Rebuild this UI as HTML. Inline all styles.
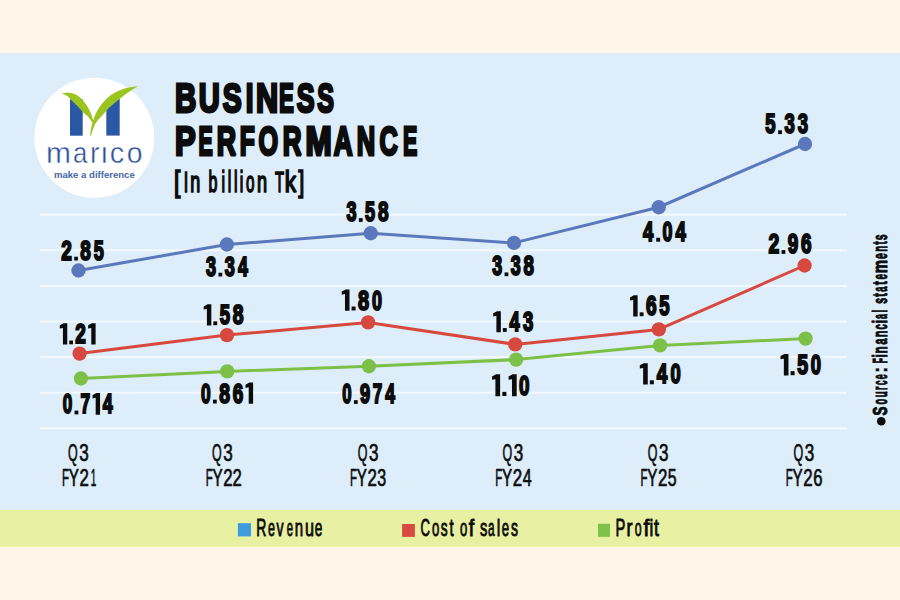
<!DOCTYPE html>
<html><head><meta charset="utf-8"><style>
html,body{margin:0;padding:0;width:900px;height:600px;overflow:hidden;background:#FEF4E7;}
svg{display:block;}
</style></head><body>
<svg width="900" height="600" viewBox="0 0 900 600">
<rect x="0" y="0" width="900" height="600" fill="#FEF4E7"/>
<rect x="0" y="53" width="900" height="457" fill="#DDEEFA"/>
<rect x="0" y="510" width="900" height="37" fill="#E8F0A3"/>
<rect x="40.0" y="213.70" width="807.0" height="2.00" fill="#F3F9FE"/><rect x="40.0" y="249.30" width="807.0" height="2.00" fill="#F3F9FE"/><rect x="40.0" y="284.90" width="807.0" height="2.00" fill="#F3F9FE"/><rect x="40.0" y="320.50" width="807.0" height="2.00" fill="#F3F9FE"/><rect x="40.0" y="356.10" width="807.0" height="2.00" fill="#F3F9FE"/><rect x="40.0" y="391.70" width="807.0" height="2.00" fill="#F3F9FE"/><rect x="40.0" y="427.30" width="807.0" height="2.00" fill="#F3F9FE"/>
<circle cx="94.3" cy="137.75" r="60" fill="#FFFFFF"/>
<rect x="70" y="99.3" width="12.7" height="36.4" fill="#2B58A5"/>
<rect x="106.3" y="98.9" width="13.4" height="36.7" fill="#2B58A5"/>
<path d="M61.70,93.20 C62.95,93.12 66.70,92.40 69.20,92.70 C71.70,93.00 74.37,93.67 76.70,95.00 C79.03,96.33 81.33,98.67 83.20,100.70 C85.07,102.73 86.58,105.03 87.90,107.20 C89.22,109.37 90.25,111.52 91.10,113.70 C91.95,115.88 92.63,118.83 93.00,120.30 C93.37,121.77 93.25,122.13 93.30,122.50 L92.30,122.50 C91.57,121.50 89.50,118.27 87.90,116.50 C86.30,114.73 84.42,113.60 82.70,111.90 C80.98,110.20 79.38,108.17 77.60,106.30 C75.82,104.43 73.72,102.42 72.00,100.70 C70.28,98.98 69.02,97.25 67.30,96.00 C65.58,94.75 62.63,93.67 61.70,93.20 Z" fill="#9CC41F"/>
<path d="M137.80,86.20 C136.10,86.45 130.92,86.88 127.60,87.70 C124.28,88.52 120.97,89.65 117.90,91.10 C114.83,92.55 111.78,94.38 109.20,96.40 C106.62,98.42 104.42,100.77 102.40,103.20 C100.38,105.63 98.55,108.42 97.10,111.00 C95.65,113.58 94.67,115.97 93.70,118.70 C92.73,121.43 91.93,124.58 91.30,127.40 C90.67,130.22 90.13,134.23 89.90,135.60 L90.90,135.60 C91.37,134.23 92.58,129.90 93.70,127.40 C94.82,124.90 95.82,123.02 97.60,120.60 C99.38,118.18 101.98,115.48 104.40,112.90 C106.82,110.32 109.37,107.60 112.10,105.10 C114.83,102.60 117.90,100.15 120.80,97.90 C123.70,95.65 126.67,93.55 129.50,91.60 C132.33,89.65 136.42,87.10 137.80,86.20 Z" fill="#9CC41F"/>
<path d="M78.50 270.50 L226.90 244.50 L370.75 233.25 L514.00 242.90 L658.75 207.25 L805.00 144.00" fill="none" stroke="#5B78BD" stroke-width="3.00" stroke-linejoin="round"/>
<path d="M79.60 353.60 L227.00 335.10 L368.10 322.40 L515.20 344.40 L658.80 329.40 L804.60 265.50" fill="none" stroke="#D7483E" stroke-width="3.00" stroke-linejoin="round"/>
<path d="M80.90 378.50 L227.25 371.40 L368.90 366.25 L516.10 359.60 L660.10 345.40 L805.60 338.60" fill="none" stroke="#7CC047" stroke-width="3.00" stroke-linejoin="round"/>
<circle cx="78.50" cy="270.50" r="7.15" fill="#5B78BD"/>
<circle cx="226.90" cy="244.50" r="7.15" fill="#5B78BD"/>
<circle cx="370.75" cy="233.25" r="7.15" fill="#5B78BD"/>
<circle cx="514.00" cy="242.90" r="7.15" fill="#5B78BD"/>
<circle cx="658.75" cy="207.25" r="7.15" fill="#5B78BD"/>
<circle cx="805.00" cy="144.00" r="7.15" fill="#5B78BD"/>
<circle cx="79.60" cy="353.60" r="7.15" fill="#D7483E"/>
<circle cx="227.00" cy="335.10" r="7.15" fill="#D7483E"/>
<circle cx="368.10" cy="322.40" r="7.15" fill="#D7483E"/>
<circle cx="515.20" cy="344.40" r="7.15" fill="#D7483E"/>
<circle cx="658.80" cy="329.40" r="7.15" fill="#D7483E"/>
<circle cx="804.60" cy="265.50" r="7.15" fill="#D7483E"/>
<circle cx="80.90" cy="378.50" r="7.15" fill="#7CC047"/>
<circle cx="227.25" cy="371.40" r="7.15" fill="#7CC047"/>
<circle cx="368.90" cy="366.25" r="7.15" fill="#7CC047"/>
<circle cx="516.10" cy="359.60" r="7.15" fill="#7CC047"/>
<circle cx="660.10" cy="345.40" r="7.15" fill="#7CC047"/>
<circle cx="805.60" cy="338.60" r="7.15" fill="#7CC047"/>
<rect x="237.90" y="523.20" width="13.10" height="13.20" fill="#3F9BDB"/><rect x="402.10" y="524.00" width="12.80" height="12.90" fill="#D94A3F"/><rect x="598.00" y="523.80" width="12.00" height="13.00" fill="#7DC24A"/>
<text x="54.00" y="177.60" font-family="&quot;Liberation Sans&quot;, sans-serif" font-weight="bold" font-size="8.57" textLength="80.73" lengthAdjust="spacingAndGlyphs" fill="#4767A6">make a difference</text>
<text x="68.06" y="460.55" font-family="&quot;Liberation Sans&quot;, sans-serif" font-weight="normal" font-size="23.55" textLength="9.69" lengthAdjust="spacingAndGlyphs" fill="#0c0c0c" stroke="#0c0c0c" stroke-width="0.70" stroke-linejoin="round" stroke-miterlimit="2">Q</text>
<text x="79.30" y="460.55" font-family="&quot;Liberation Sans&quot;, sans-serif" font-weight="normal" font-size="23.55" textLength="9.50" lengthAdjust="spacingAndGlyphs" fill="#0c0c0c" stroke="#0c0c0c" stroke-width="0.70" stroke-linejoin="round" stroke-miterlimit="2">3</text>
<text x="61.91" y="486.25" font-family="&quot;Liberation Sans&quot;, sans-serif" font-weight="normal" font-size="23.11" textLength="7.00" lengthAdjust="spacingAndGlyphs" fill="#0c0c0c" stroke="#0c0c0c" stroke-width="0.70" stroke-linejoin="round" stroke-miterlimit="2">F</text>
<text x="68.81" y="486.25" font-family="&quot;Liberation Sans&quot;, sans-serif" font-weight="normal" font-size="23.11" textLength="10.17" lengthAdjust="spacingAndGlyphs" fill="#0c0c0c" stroke="#0c0c0c" stroke-width="0.70" stroke-linejoin="round" stroke-miterlimit="2">Y</text>
<text x="79.50" y="486.25" font-family="&quot;Liberation Sans&quot;, sans-serif" font-weight="normal" font-size="23.11" textLength="9.40" lengthAdjust="spacingAndGlyphs" fill="#0c0c0c" stroke="#0c0c0c" stroke-width="0.70" stroke-linejoin="round" stroke-miterlimit="2">2</text>
<text x="90.84" y="486.25" font-family="&quot;Liberation Sans&quot;, sans-serif" font-weight="normal" font-size="23.11" textLength="5.55" lengthAdjust="spacingAndGlyphs" fill="#0c0c0c" stroke="#0c0c0c" stroke-width="0.70" stroke-linejoin="round" stroke-miterlimit="2">1</text>
<text x="211.96" y="460.55" font-family="&quot;Liberation Sans&quot;, sans-serif" font-weight="normal" font-size="23.55" textLength="9.69" lengthAdjust="spacingAndGlyphs" fill="#0c0c0c" stroke="#0c0c0c" stroke-width="0.70" stroke-linejoin="round" stroke-miterlimit="2">Q</text>
<text x="223.20" y="460.55" font-family="&quot;Liberation Sans&quot;, sans-serif" font-weight="normal" font-size="23.55" textLength="9.50" lengthAdjust="spacingAndGlyphs" fill="#0c0c0c" stroke="#0c0c0c" stroke-width="0.70" stroke-linejoin="round" stroke-miterlimit="2">3</text>
<text x="205.71" y="486.25" font-family="&quot;Liberation Sans&quot;, sans-serif" font-weight="normal" font-size="23.11" textLength="7.00" lengthAdjust="spacingAndGlyphs" fill="#0c0c0c" stroke="#0c0c0c" stroke-width="0.70" stroke-linejoin="round" stroke-miterlimit="2">F</text>
<text x="212.61" y="486.25" font-family="&quot;Liberation Sans&quot;, sans-serif" font-weight="normal" font-size="23.11" textLength="10.17" lengthAdjust="spacingAndGlyphs" fill="#0c0c0c" stroke="#0c0c0c" stroke-width="0.70" stroke-linejoin="round" stroke-miterlimit="2">Y</text>
<text x="223.30" y="486.25" font-family="&quot;Liberation Sans&quot;, sans-serif" font-weight="normal" font-size="23.11" textLength="9.40" lengthAdjust="spacingAndGlyphs" fill="#0c0c0c" stroke="#0c0c0c" stroke-width="0.70" stroke-linejoin="round" stroke-miterlimit="2">2</text>
<text x="232.51" y="486.25" font-family="&quot;Liberation Sans&quot;, sans-serif" font-weight="normal" font-size="23.11" textLength="9.28" lengthAdjust="spacingAndGlyphs" fill="#0c0c0c" stroke="#0c0c0c" stroke-width="0.70" stroke-linejoin="round" stroke-miterlimit="2">2</text>
<text x="357.76" y="460.55" font-family="&quot;Liberation Sans&quot;, sans-serif" font-weight="normal" font-size="23.55" textLength="9.69" lengthAdjust="spacingAndGlyphs" fill="#0c0c0c" stroke="#0c0c0c" stroke-width="0.70" stroke-linejoin="round" stroke-miterlimit="2">Q</text>
<text x="369.00" y="460.55" font-family="&quot;Liberation Sans&quot;, sans-serif" font-weight="normal" font-size="23.55" textLength="9.50" lengthAdjust="spacingAndGlyphs" fill="#0c0c0c" stroke="#0c0c0c" stroke-width="0.70" stroke-linejoin="round" stroke-miterlimit="2">3</text>
<text x="349.91" y="486.25" font-family="&quot;Liberation Sans&quot;, sans-serif" font-weight="normal" font-size="23.11" textLength="7.00" lengthAdjust="spacingAndGlyphs" fill="#0c0c0c" stroke="#0c0c0c" stroke-width="0.70" stroke-linejoin="round" stroke-miterlimit="2">F</text>
<text x="356.81" y="486.25" font-family="&quot;Liberation Sans&quot;, sans-serif" font-weight="normal" font-size="23.11" textLength="10.17" lengthAdjust="spacingAndGlyphs" fill="#0c0c0c" stroke="#0c0c0c" stroke-width="0.70" stroke-linejoin="round" stroke-miterlimit="2">Y</text>
<text x="367.50" y="486.25" font-family="&quot;Liberation Sans&quot;, sans-serif" font-weight="normal" font-size="23.11" textLength="9.40" lengthAdjust="spacingAndGlyphs" fill="#0c0c0c" stroke="#0c0c0c" stroke-width="0.70" stroke-linejoin="round" stroke-miterlimit="2">2</text>
<text x="377.14" y="486.25" font-family="&quot;Liberation Sans&quot;, sans-serif" font-weight="normal" font-size="23.11" textLength="8.91" lengthAdjust="spacingAndGlyphs" fill="#0c0c0c" stroke="#0c0c0c" stroke-width="0.70" stroke-linejoin="round" stroke-miterlimit="2">3</text>
<text x="502.56" y="460.55" font-family="&quot;Liberation Sans&quot;, sans-serif" font-weight="normal" font-size="23.55" textLength="9.69" lengthAdjust="spacingAndGlyphs" fill="#0c0c0c" stroke="#0c0c0c" stroke-width="0.70" stroke-linejoin="round" stroke-miterlimit="2">Q</text>
<text x="513.80" y="460.55" font-family="&quot;Liberation Sans&quot;, sans-serif" font-weight="normal" font-size="23.55" textLength="9.50" lengthAdjust="spacingAndGlyphs" fill="#0c0c0c" stroke="#0c0c0c" stroke-width="0.70" stroke-linejoin="round" stroke-miterlimit="2">3</text>
<text x="495.16" y="486.25" font-family="&quot;Liberation Sans&quot;, sans-serif" font-weight="normal" font-size="23.11" textLength="7.00" lengthAdjust="spacingAndGlyphs" fill="#0c0c0c" stroke="#0c0c0c" stroke-width="0.70" stroke-linejoin="round" stroke-miterlimit="2">F</text>
<text x="502.06" y="486.25" font-family="&quot;Liberation Sans&quot;, sans-serif" font-weight="normal" font-size="23.11" textLength="10.17" lengthAdjust="spacingAndGlyphs" fill="#0c0c0c" stroke="#0c0c0c" stroke-width="0.70" stroke-linejoin="round" stroke-miterlimit="2">Y</text>
<text x="512.75" y="486.25" font-family="&quot;Liberation Sans&quot;, sans-serif" font-weight="normal" font-size="23.11" textLength="9.40" lengthAdjust="spacingAndGlyphs" fill="#0c0c0c" stroke="#0c0c0c" stroke-width="0.70" stroke-linejoin="round" stroke-miterlimit="2">2</text>
<text x="522.78" y="486.25" font-family="&quot;Liberation Sans&quot;, sans-serif" font-weight="normal" font-size="23.11" textLength="8.94" lengthAdjust="spacingAndGlyphs" fill="#0c0c0c" stroke="#0c0c0c" stroke-width="0.70" stroke-linejoin="round" stroke-miterlimit="2">4</text>
<text x="647.76" y="460.55" font-family="&quot;Liberation Sans&quot;, sans-serif" font-weight="normal" font-size="23.55" textLength="9.69" lengthAdjust="spacingAndGlyphs" fill="#0c0c0c" stroke="#0c0c0c" stroke-width="0.70" stroke-linejoin="round" stroke-miterlimit="2">Q</text>
<text x="659.00" y="460.55" font-family="&quot;Liberation Sans&quot;, sans-serif" font-weight="normal" font-size="23.55" textLength="9.50" lengthAdjust="spacingAndGlyphs" fill="#0c0c0c" stroke="#0c0c0c" stroke-width="0.70" stroke-linejoin="round" stroke-miterlimit="2">3</text>
<text x="640.41" y="486.25" font-family="&quot;Liberation Sans&quot;, sans-serif" font-weight="normal" font-size="23.11" textLength="7.00" lengthAdjust="spacingAndGlyphs" fill="#0c0c0c" stroke="#0c0c0c" stroke-width="0.70" stroke-linejoin="round" stroke-miterlimit="2">F</text>
<text x="647.31" y="486.25" font-family="&quot;Liberation Sans&quot;, sans-serif" font-weight="normal" font-size="23.11" textLength="10.17" lengthAdjust="spacingAndGlyphs" fill="#0c0c0c" stroke="#0c0c0c" stroke-width="0.70" stroke-linejoin="round" stroke-miterlimit="2">Y</text>
<text x="658.00" y="486.25" font-family="&quot;Liberation Sans&quot;, sans-serif" font-weight="normal" font-size="23.11" textLength="9.40" lengthAdjust="spacingAndGlyphs" fill="#0c0c0c" stroke="#0c0c0c" stroke-width="0.70" stroke-linejoin="round" stroke-miterlimit="2">2</text>
<text x="667.82" y="486.25" font-family="&quot;Liberation Sans&quot;, sans-serif" font-weight="normal" font-size="23.11" textLength="8.80" lengthAdjust="spacingAndGlyphs" fill="#0c0c0c" stroke="#0c0c0c" stroke-width="0.70" stroke-linejoin="round" stroke-miterlimit="2">5</text>
<text x="793.56" y="460.55" font-family="&quot;Liberation Sans&quot;, sans-serif" font-weight="normal" font-size="23.55" textLength="9.69" lengthAdjust="spacingAndGlyphs" fill="#0c0c0c" stroke="#0c0c0c" stroke-width="0.70" stroke-linejoin="round" stroke-miterlimit="2">Q</text>
<text x="804.80" y="460.55" font-family="&quot;Liberation Sans&quot;, sans-serif" font-weight="normal" font-size="23.55" textLength="9.50" lengthAdjust="spacingAndGlyphs" fill="#0c0c0c" stroke="#0c0c0c" stroke-width="0.70" stroke-linejoin="round" stroke-miterlimit="2">3</text>
<text x="785.71" y="486.25" font-family="&quot;Liberation Sans&quot;, sans-serif" font-weight="normal" font-size="23.11" textLength="7.00" lengthAdjust="spacingAndGlyphs" fill="#0c0c0c" stroke="#0c0c0c" stroke-width="0.70" stroke-linejoin="round" stroke-miterlimit="2">F</text>
<text x="792.61" y="486.25" font-family="&quot;Liberation Sans&quot;, sans-serif" font-weight="normal" font-size="23.11" textLength="10.17" lengthAdjust="spacingAndGlyphs" fill="#0c0c0c" stroke="#0c0c0c" stroke-width="0.70" stroke-linejoin="round" stroke-miterlimit="2">Y</text>
<text x="803.30" y="486.25" font-family="&quot;Liberation Sans&quot;, sans-serif" font-weight="normal" font-size="23.11" textLength="9.40" lengthAdjust="spacingAndGlyphs" fill="#0c0c0c" stroke="#0c0c0c" stroke-width="0.70" stroke-linejoin="round" stroke-miterlimit="2">2</text>
<text x="813.30" y="486.25" font-family="&quot;Liberation Sans&quot;, sans-serif" font-weight="normal" font-size="23.11" textLength="9.28" lengthAdjust="spacingAndGlyphs" fill="#0c0c0c" stroke="#0c0c0c" stroke-width="0.70" stroke-linejoin="round" stroke-miterlimit="2">6</text>
<text x="46.11" y="162.50" font-family="&quot;Liberation Sans&quot;, sans-serif" font-weight="normal" font-size="28.77" textLength="24.97" lengthAdjust="spacingAndGlyphs" fill="#2F4F9C" stroke="#FFFFFF" stroke-width="0.40" stroke-linejoin="round" stroke-miterlimit="2">m</text>
<text x="73.01" y="162.50" font-family="&quot;Liberation Sans&quot;, sans-serif" font-weight="normal" font-size="28.77" textLength="14.29" lengthAdjust="spacingAndGlyphs" fill="#2F4F9C" stroke="#FFFFFF" stroke-width="0.40" stroke-linejoin="round" stroke-miterlimit="2">a</text>
<text x="90.11" y="162.50" font-family="&quot;Liberation Sans&quot;, sans-serif" font-weight="normal" font-size="28.77" textLength="9.46" lengthAdjust="spacingAndGlyphs" fill="#2F4F9C" stroke="#FFFFFF" stroke-width="0.40" stroke-linejoin="round" stroke-miterlimit="2">r</text>
<text x="100.30" y="162.50" font-family="&quot;Liberation Sans&quot;, sans-serif" font-weight="normal" font-size="28.77" textLength="8.22" lengthAdjust="spacingAndGlyphs" fill="#2F4F9C" stroke="#FFFFFF" stroke-width="0.40" stroke-linejoin="round" stroke-miterlimit="2">ı</text>
<text x="109.67" y="162.50" font-family="&quot;Liberation Sans&quot;, sans-serif" font-weight="normal" font-size="28.77" textLength="14.50" lengthAdjust="spacingAndGlyphs" fill="#2F4F9C" stroke="#FFFFFF" stroke-width="0.40" stroke-linejoin="round" stroke-miterlimit="2">c</text>
<text x="126.71" y="162.50" font-family="&quot;Liberation Sans&quot;, sans-serif" font-weight="normal" font-size="28.77" textLength="15.78" lengthAdjust="spacingAndGlyphs" fill="#2F4F9C" stroke="#FFFFFF" stroke-width="0.40" stroke-linejoin="round" stroke-miterlimit="2">o</text>
<text x="173.94" y="191.95" font-family="&quot;Liberation Sans&quot;, sans-serif" font-weight="normal" font-size="28.63" textLength="6.29" lengthAdjust="spacingAndGlyphs" fill="#0c0c0c" stroke="#0c0c0c" stroke-width="1.70" stroke-linejoin="miter" stroke-miterlimit="2">[</text>
<text x="183.77" y="191.95" font-family="&quot;Liberation Sans&quot;, sans-serif" font-weight="normal" font-size="28.63" textLength="4.47" lengthAdjust="spacingAndGlyphs" fill="#0c0c0c" stroke="#0c0c0c" stroke-width="1.70" stroke-linejoin="miter" stroke-miterlimit="2">I</text>
<text x="190.36" y="191.95" font-family="&quot;Liberation Sans&quot;, sans-serif" font-weight="normal" font-size="28.63" textLength="9.95" lengthAdjust="spacingAndGlyphs" fill="#0c0c0c" stroke="#0c0c0c" stroke-width="1.70" stroke-linejoin="miter" stroke-miterlimit="2">n</text>
<text x="208.42" y="191.95" font-family="&quot;Liberation Sans&quot;, sans-serif" font-weight="normal" font-size="28.63" textLength="8.90" lengthAdjust="spacingAndGlyphs" fill="#0c0c0c" stroke="#0c0c0c" stroke-width="1.70" stroke-linejoin="miter" stroke-miterlimit="2">b</text>
<text x="221.58" y="191.95" font-family="&quot;Liberation Sans&quot;, sans-serif" font-weight="normal" font-size="28.63" textLength="3.54" lengthAdjust="spacingAndGlyphs" fill="#0c0c0c" stroke="#0c0c0c" stroke-width="1.70" stroke-linejoin="miter" stroke-miterlimit="2">i</text>
<text x="227.78" y="191.95" font-family="&quot;Liberation Sans&quot;, sans-serif" font-weight="normal" font-size="28.63" textLength="3.54" lengthAdjust="spacingAndGlyphs" fill="#0c0c0c" stroke="#0c0c0c" stroke-width="1.70" stroke-linejoin="miter" stroke-miterlimit="2">l</text>
<text x="233.98" y="191.95" font-family="&quot;Liberation Sans&quot;, sans-serif" font-weight="normal" font-size="28.63" textLength="3.54" lengthAdjust="spacingAndGlyphs" fill="#0c0c0c" stroke="#0c0c0c" stroke-width="1.70" stroke-linejoin="miter" stroke-miterlimit="2">l</text>
<text x="239.78" y="191.95" font-family="&quot;Liberation Sans&quot;, sans-serif" font-weight="normal" font-size="28.63" textLength="3.54" lengthAdjust="spacingAndGlyphs" fill="#0c0c0c" stroke="#0c0c0c" stroke-width="1.70" stroke-linejoin="miter" stroke-miterlimit="2">i</text>
<text x="246.01" y="191.95" font-family="&quot;Liberation Sans&quot;, sans-serif" font-weight="normal" font-size="28.63" textLength="8.48" lengthAdjust="spacingAndGlyphs" fill="#0c0c0c" stroke="#0c0c0c" stroke-width="1.70" stroke-linejoin="miter" stroke-miterlimit="2">o</text>
<text x="257.05" y="191.95" font-family="&quot;Liberation Sans&quot;, sans-serif" font-weight="normal" font-size="28.63" textLength="10.08" lengthAdjust="spacingAndGlyphs" fill="#0c0c0c" stroke="#0c0c0c" stroke-width="1.70" stroke-linejoin="miter" stroke-miterlimit="2">n</text>
<text x="275.12" y="191.95" font-family="&quot;Liberation Sans&quot;, sans-serif" font-weight="normal" font-size="28.63" textLength="9.07" lengthAdjust="spacingAndGlyphs" fill="#0c0c0c" stroke="#0c0c0c" stroke-width="1.70" stroke-linejoin="miter" stroke-miterlimit="2">T</text>
<text x="284.70" y="191.95" font-family="&quot;Liberation Sans&quot;, sans-serif" font-weight="normal" font-size="28.63" textLength="11.52" lengthAdjust="spacingAndGlyphs" fill="#0c0c0c" stroke="#0c0c0c" stroke-width="1.70" stroke-linejoin="miter" stroke-miterlimit="2">k</text>
<text x="298.59" y="191.95" font-family="&quot;Liberation Sans&quot;, sans-serif" font-weight="normal" font-size="28.63" textLength="5.73" lengthAdjust="spacingAndGlyphs" fill="#0c0c0c" stroke="#0c0c0c" stroke-width="1.70" stroke-linejoin="miter" stroke-miterlimit="2">]</text>
<text x="256.20" y="536.45" font-family="&quot;Liberation Sans&quot;, sans-serif" font-weight="normal" font-size="23.26" textLength="10.10" lengthAdjust="spacingAndGlyphs" fill="#0c0c0c" stroke="#0c0c0c" stroke-width="0.90" stroke-linejoin="miter" stroke-miterlimit="2">R</text>
<text x="267.92" y="536.45" font-family="&quot;Liberation Sans&quot;, sans-serif" font-weight="normal" font-size="23.26" textLength="6.99" lengthAdjust="spacingAndGlyphs" fill="#0c0c0c" stroke="#0c0c0c" stroke-width="0.90" stroke-linejoin="miter" stroke-miterlimit="2">e</text>
<text x="276.60" y="536.45" font-family="&quot;Liberation Sans&quot;, sans-serif" font-weight="normal" font-size="23.26" textLength="7.00" lengthAdjust="spacingAndGlyphs" fill="#0c0c0c" stroke="#0c0c0c" stroke-width="0.90" stroke-linejoin="miter" stroke-miterlimit="2">v</text>
<text x="286.67" y="536.45" font-family="&quot;Liberation Sans&quot;, sans-serif" font-weight="normal" font-size="23.26" textLength="6.28" lengthAdjust="spacingAndGlyphs" fill="#0c0c0c" stroke="#0c0c0c" stroke-width="0.90" stroke-linejoin="miter" stroke-miterlimit="2">e</text>
<text x="294.85" y="536.45" font-family="&quot;Liberation Sans&quot;, sans-serif" font-weight="normal" font-size="23.26" textLength="8.38" lengthAdjust="spacingAndGlyphs" fill="#0c0c0c" stroke="#0c0c0c" stroke-width="0.90" stroke-linejoin="miter" stroke-miterlimit="2">n</text>
<text x="304.90" y="536.45" font-family="&quot;Liberation Sans&quot;, sans-serif" font-weight="normal" font-size="23.26" textLength="9.03" lengthAdjust="spacingAndGlyphs" fill="#0c0c0c" stroke="#0c0c0c" stroke-width="0.90" stroke-linejoin="miter" stroke-miterlimit="2">u</text>
<text x="314.87" y="536.45" font-family="&quot;Liberation Sans&quot;, sans-serif" font-weight="normal" font-size="23.26" textLength="7.59" lengthAdjust="spacingAndGlyphs" fill="#0c0c0c" stroke="#0c0c0c" stroke-width="0.90" stroke-linejoin="miter" stroke-miterlimit="2">e</text>
<text x="420.58" y="536.45" font-family="&quot;Liberation Sans&quot;, sans-serif" font-weight="normal" font-size="23.26" textLength="9.46" lengthAdjust="spacingAndGlyphs" fill="#0c0c0c" stroke="#0c0c0c" stroke-width="0.90" stroke-linejoin="miter" stroke-miterlimit="2">C</text>
<text x="431.90" y="536.45" font-family="&quot;Liberation Sans&quot;, sans-serif" font-weight="normal" font-size="23.26" textLength="7.30" lengthAdjust="spacingAndGlyphs" fill="#0c0c0c" stroke="#0c0c0c" stroke-width="0.90" stroke-linejoin="miter" stroke-miterlimit="2">o</text>
<text x="440.67" y="536.45" font-family="&quot;Liberation Sans&quot;, sans-serif" font-weight="normal" font-size="23.26" textLength="6.88" lengthAdjust="spacingAndGlyphs" fill="#0c0c0c" stroke="#0c0c0c" stroke-width="0.90" stroke-linejoin="miter" stroke-miterlimit="2">s</text>
<text x="449.52" y="536.45" font-family="&quot;Liberation Sans&quot;, sans-serif" font-weight="normal" font-size="23.26" textLength="4.13" lengthAdjust="spacingAndGlyphs" fill="#0c0c0c" stroke="#0c0c0c" stroke-width="0.90" stroke-linejoin="miter" stroke-miterlimit="2">t</text>
<text x="459.90" y="536.45" font-family="&quot;Liberation Sans&quot;, sans-serif" font-weight="normal" font-size="23.26" textLength="7.30" lengthAdjust="spacingAndGlyphs" fill="#0c0c0c" stroke="#0c0c0c" stroke-width="0.90" stroke-linejoin="miter" stroke-miterlimit="2">o</text>
<text x="468.67" y="536.45" font-family="&quot;Liberation Sans&quot;, sans-serif" font-weight="normal" font-size="23.26" textLength="5.45" lengthAdjust="spacingAndGlyphs" fill="#0c0c0c" stroke="#0c0c0c" stroke-width="0.90" stroke-linejoin="miter" stroke-miterlimit="2">f</text>
<text x="480.04" y="536.45" font-family="&quot;Liberation Sans&quot;, sans-serif" font-weight="normal" font-size="23.26" textLength="7.34" lengthAdjust="spacingAndGlyphs" fill="#0c0c0c" stroke="#0c0c0c" stroke-width="0.90" stroke-linejoin="miter" stroke-miterlimit="2">s</text>
<text x="487.95" y="536.45" font-family="&quot;Liberation Sans&quot;, sans-serif" font-weight="normal" font-size="23.26" textLength="6.60" lengthAdjust="spacingAndGlyphs" fill="#0c0c0c" stroke="#0c0c0c" stroke-width="0.90" stroke-linejoin="miter" stroke-miterlimit="2">a</text>
<text x="496.68" y="536.45" font-family="&quot;Liberation Sans&quot;, sans-serif" font-weight="normal" font-size="23.26" textLength="3.54" lengthAdjust="spacingAndGlyphs" fill="#0c0c0c" stroke="#0c0c0c" stroke-width="0.90" stroke-linejoin="miter" stroke-miterlimit="2">l</text>
<text x="501.79" y="536.45" font-family="&quot;Liberation Sans&quot;, sans-serif" font-weight="normal" font-size="23.26" textLength="7.35" lengthAdjust="spacingAndGlyphs" fill="#0c0c0c" stroke="#0c0c0c" stroke-width="0.90" stroke-linejoin="miter" stroke-miterlimit="2">e</text>
<text x="511.06" y="536.45" font-family="&quot;Liberation Sans&quot;, sans-serif" font-weight="normal" font-size="23.26" textLength="6.99" lengthAdjust="spacingAndGlyphs" fill="#0c0c0c" stroke="#0c0c0c" stroke-width="0.90" stroke-linejoin="miter" stroke-miterlimit="2">s</text>
<text x="615.45" y="536.45" font-family="&quot;Liberation Sans&quot;, sans-serif" font-weight="normal" font-size="23.26" textLength="9.78" lengthAdjust="spacingAndGlyphs" fill="#0c0c0c" stroke="#0c0c0c" stroke-width="0.90" stroke-linejoin="miter" stroke-miterlimit="2">P</text>
<text x="626.45" y="536.45" font-family="&quot;Liberation Sans&quot;, sans-serif" font-weight="normal" font-size="23.26" textLength="5.99" lengthAdjust="spacingAndGlyphs" fill="#0c0c0c" stroke="#0c0c0c" stroke-width="0.90" stroke-linejoin="miter" stroke-miterlimit="2">r</text>
<text x="634.63" y="536.45" font-family="&quot;Liberation Sans&quot;, sans-serif" font-weight="normal" font-size="23.26" textLength="6.83" lengthAdjust="spacingAndGlyphs" fill="#0c0c0c" stroke="#0c0c0c" stroke-width="0.90" stroke-linejoin="miter" stroke-miterlimit="2">o</text>
<text x="643.45" y="536.45" font-family="&quot;Liberation Sans&quot;, sans-serif" font-weight="normal" font-size="23.26" textLength="5.82" lengthAdjust="spacingAndGlyphs" fill="#0c0c0c" stroke="#0c0c0c" stroke-width="0.90" stroke-linejoin="miter" stroke-miterlimit="2">f</text>
<text x="649.51" y="536.45" font-family="&quot;Liberation Sans&quot;, sans-serif" font-weight="normal" font-size="23.26" textLength="3.79" lengthAdjust="spacingAndGlyphs" fill="#0c0c0c" stroke="#0c0c0c" stroke-width="0.90" stroke-linejoin="miter" stroke-miterlimit="2">i</text>
<text x="654.08" y="536.45" font-family="&quot;Liberation Sans&quot;, sans-serif" font-weight="normal" font-size="23.26" textLength="4.90" lengthAdjust="spacingAndGlyphs" fill="#0c0c0c" stroke="#0c0c0c" stroke-width="0.90" stroke-linejoin="miter" stroke-miterlimit="2">t</text>
<text x="61.34" y="259.53" font-family="&quot;Liberation Sans&quot;, sans-serif" font-weight="bold" font-size="27.54" textLength="10.60" lengthAdjust="spacingAndGlyphs" fill="#0c0c0c" stroke="#0c0c0c" stroke-width="2.00" stroke-linejoin="miter" stroke-miterlimit="2">2</text>
<path d="M74.17,256.71 H77.96 V260.50 H74.17 Z" fill="#0c0c0c"/>
<text x="80.35" y="259.53" font-family="&quot;Liberation Sans&quot;, sans-serif" font-weight="bold" font-size="27.54" textLength="10.56" lengthAdjust="spacingAndGlyphs" fill="#0c0c0c" stroke="#0c0c0c" stroke-width="2.00" stroke-linejoin="miter" stroke-miterlimit="2">8</text>
<text x="93.77" y="259.53" font-family="&quot;Liberation Sans&quot;, sans-serif" font-weight="bold" font-size="27.54" textLength="10.03" lengthAdjust="spacingAndGlyphs" fill="#0c0c0c" stroke="#0c0c0c" stroke-width="2.00" stroke-linejoin="miter" stroke-miterlimit="2">5</text>
<text x="206.09" y="275.53" font-family="&quot;Liberation Sans&quot;, sans-serif" font-weight="bold" font-size="27.40" textLength="10.04" lengthAdjust="spacingAndGlyphs" fill="#0c0c0c" stroke="#0c0c0c" stroke-width="2.00" stroke-linejoin="miter" stroke-miterlimit="2">3</text>
<path d="M218.47,272.71 H222.26 V276.50 H218.47 Z" fill="#0c0c0c"/>
<text x="224.84" y="275.53" font-family="&quot;Liberation Sans&quot;, sans-serif" font-weight="bold" font-size="27.40" textLength="10.04" lengthAdjust="spacingAndGlyphs" fill="#0c0c0c" stroke="#0c0c0c" stroke-width="2.00" stroke-linejoin="miter" stroke-miterlimit="2">3</text>
<text x="237.96" y="275.53" font-family="&quot;Liberation Sans&quot;, sans-serif" font-weight="bold" font-size="27.40" textLength="9.84" lengthAdjust="spacingAndGlyphs" fill="#0c0c0c" stroke="#0c0c0c" stroke-width="2.00" stroke-linejoin="miter" stroke-miterlimit="2">4</text>
<text x="346.49" y="220.93" font-family="&quot;Liberation Sans&quot;, sans-serif" font-weight="bold" font-size="27.40" textLength="10.04" lengthAdjust="spacingAndGlyphs" fill="#0c0c0c" stroke="#0c0c0c" stroke-width="2.00" stroke-linejoin="miter" stroke-miterlimit="2">3</text>
<path d="M358.87,218.11 H362.66 V221.90 H358.87 Z" fill="#0c0c0c"/>
<text x="365.10" y="220.93" font-family="&quot;Liberation Sans&quot;, sans-serif" font-weight="bold" font-size="27.40" textLength="10.03" lengthAdjust="spacingAndGlyphs" fill="#0c0c0c" stroke="#0c0c0c" stroke-width="2.00" stroke-linejoin="miter" stroke-miterlimit="2">5</text>
<text x="378.02" y="220.93" font-family="&quot;Liberation Sans&quot;, sans-serif" font-weight="bold" font-size="27.40" textLength="10.56" lengthAdjust="spacingAndGlyphs" fill="#0c0c0c" stroke="#0c0c0c" stroke-width="2.00" stroke-linejoin="miter" stroke-miterlimit="2">8</text>
<text x="492.29" y="275.23" font-family="&quot;Liberation Sans&quot;, sans-serif" font-weight="bold" font-size="27.97" textLength="9.93" lengthAdjust="spacingAndGlyphs" fill="#0c0c0c" stroke="#0c0c0c" stroke-width="2.00" stroke-linejoin="miter" stroke-miterlimit="2">3</text>
<path d="M504.55,272.44 H508.31 V276.20 H504.55 Z" fill="#0c0c0c"/>
<text x="510.87" y="275.23" font-family="&quot;Liberation Sans&quot;, sans-serif" font-weight="bold" font-size="27.97" textLength="9.93" lengthAdjust="spacingAndGlyphs" fill="#0c0c0c" stroke="#0c0c0c" stroke-width="2.00" stroke-linejoin="miter" stroke-miterlimit="2">3</text>
<text x="523.54" y="275.23" font-family="&quot;Liberation Sans&quot;, sans-serif" font-weight="bold" font-size="27.97" textLength="10.44" lengthAdjust="spacingAndGlyphs" fill="#0c0c0c" stroke="#0c0c0c" stroke-width="2.00" stroke-linejoin="miter" stroke-miterlimit="2">8</text>
<text x="642.92" y="240.74" font-family="&quot;Liberation Sans&quot;, sans-serif" font-weight="bold" font-size="27.12" textLength="10.31" lengthAdjust="spacingAndGlyphs" fill="#0c0c0c" stroke="#0c0c0c" stroke-width="2.00" stroke-linejoin="miter" stroke-miterlimit="2">4</text>
<path d="M656.20,237.76 H660.15 V241.70 H656.20 Z" fill="#0c0c0c"/>
<text x="662.51" y="240.74" font-family="&quot;Liberation Sans&quot;, sans-serif" font-weight="bold" font-size="27.12" textLength="9.91" lengthAdjust="spacingAndGlyphs" fill="#0c0c0c" stroke="#0c0c0c" stroke-width="2.00" stroke-linejoin="miter" stroke-miterlimit="2">0</text>
<text x="675.49" y="240.74" font-family="&quot;Liberation Sans&quot;, sans-serif" font-weight="bold" font-size="27.12" textLength="10.31" lengthAdjust="spacingAndGlyphs" fill="#0c0c0c" stroke="#0c0c0c" stroke-width="2.00" stroke-linejoin="miter" stroke-miterlimit="2">4</text>
<text x="765.33" y="133.13" font-family="&quot;Liberation Sans&quot;, sans-serif" font-weight="bold" font-size="27.82" textLength="10.26" lengthAdjust="spacingAndGlyphs" fill="#0c0c0c" stroke="#0c0c0c" stroke-width="2.00" stroke-linejoin="miter" stroke-miterlimit="2">5</text>
<path d="M778.11,130.24 H781.97 V134.10 H778.11 Z" fill="#0c0c0c"/>
<text x="784.58" y="133.13" font-family="&quot;Liberation Sans&quot;, sans-serif" font-weight="bold" font-size="27.82" textLength="10.27" lengthAdjust="spacingAndGlyphs" fill="#0c0c0c" stroke="#0c0c0c" stroke-width="2.00" stroke-linejoin="miter" stroke-miterlimit="2">3</text>
<text x="797.80" y="133.13" font-family="&quot;Liberation Sans&quot;, sans-serif" font-weight="bold" font-size="27.82" textLength="10.27" lengthAdjust="spacingAndGlyphs" fill="#0c0c0c" stroke="#0c0c0c" stroke-width="2.00" stroke-linejoin="miter" stroke-miterlimit="2">3</text>
<path d="M59.80,325.34 L63.53,323.20 L67.26,323.20 L67.26,344.60 L62.93,344.60 L62.93,327.91 L59.80,328.55 Z" fill="#0c0c0c"/>
<path d="M69.25,340.52 H73.03 V344.30 H69.25 Z" fill="#0c0c0c"/>
<text x="75.36" y="343.33" font-family="&quot;Liberation Sans&quot;, sans-serif" font-weight="bold" font-size="27.40" textLength="10.56" lengthAdjust="spacingAndGlyphs" fill="#0c0c0c" stroke="#0c0c0c" stroke-width="2.00" stroke-linejoin="miter" stroke-miterlimit="2">2</text>
<path d="M88.14,325.34 L91.87,323.20 L95.60,323.20 L95.60,344.60 L91.27,344.60 L91.27,327.91 L88.14,328.55 Z" fill="#0c0c0c"/>
<path d="M203.70,306.42 L207.51,304.30 L211.31,304.30 L211.31,325.50 L206.90,325.50 L206.90,308.96 L203.70,309.60 Z" fill="#0c0c0c"/>
<path d="M213.34,321.34 H217.20 V325.20 H213.34 Z" fill="#0c0c0c"/>
<text x="219.66" y="324.24" font-family="&quot;Liberation Sans&quot;, sans-serif" font-weight="bold" font-size="27.12" textLength="10.25" lengthAdjust="spacingAndGlyphs" fill="#0c0c0c" stroke="#0c0c0c" stroke-width="2.00" stroke-linejoin="miter" stroke-miterlimit="2">5</text>
<text x="232.81" y="324.24" font-family="&quot;Liberation Sans&quot;, sans-serif" font-weight="bold" font-size="27.12" textLength="10.78" lengthAdjust="spacingAndGlyphs" fill="#0c0c0c" stroke="#0c0c0c" stroke-width="2.00" stroke-linejoin="miter" stroke-miterlimit="2">8</text>
<path d="M341.70,291.54 L345.60,289.40 L349.51,289.40 L349.51,310.80 L344.98,310.80 L344.98,294.11 L341.70,294.75 Z" fill="#0c0c0c"/>
<path d="M351.59,306.54 H355.55 V310.50 H351.59 Z" fill="#0c0c0c"/>
<text x="358.00" y="309.53" font-family="&quot;Liberation Sans&quot;, sans-serif" font-weight="bold" font-size="27.40" textLength="11.12" lengthAdjust="spacingAndGlyphs" fill="#0c0c0c" stroke="#0c0c0c" stroke-width="2.00" stroke-linejoin="miter" stroke-miterlimit="2">8</text>
<text x="371.88" y="309.53" font-family="&quot;Liberation Sans&quot;, sans-serif" font-weight="bold" font-size="27.40" textLength="9.96" lengthAdjust="spacingAndGlyphs" fill="#0c0c0c" stroke="#0c0c0c" stroke-width="2.00" stroke-linejoin="miter" stroke-miterlimit="2">0</text>
<path d="M493.20,313.30 L497.02,311.20 L500.83,311.20 L500.83,332.20 L496.41,332.20 L496.41,315.82 L493.20,316.45 Z" fill="#0c0c0c"/>
<path d="M502.87,328.03 H506.73 V331.90 H502.87 Z" fill="#0c0c0c"/>
<text x="509.49" y="330.94" font-family="&quot;Liberation Sans&quot;, sans-serif" font-weight="bold" font-size="26.84" textLength="10.07" lengthAdjust="spacingAndGlyphs" fill="#0c0c0c" stroke="#0c0c0c" stroke-width="2.00" stroke-linejoin="miter" stroke-miterlimit="2">4</text>
<text x="523.08" y="330.94" font-family="&quot;Liberation Sans&quot;, sans-serif" font-weight="bold" font-size="26.84" textLength="10.29" lengthAdjust="spacingAndGlyphs" fill="#0c0c0c" stroke="#0c0c0c" stroke-width="2.00" stroke-linejoin="miter" stroke-miterlimit="2">3</text>
<path d="M630.00,297.42 L633.82,295.30 L637.63,295.30 L637.63,316.50 L633.21,316.50 L633.21,299.96 L630.00,300.60 Z" fill="#0c0c0c"/>
<path d="M639.67,312.33 H643.54 V316.20 H639.67 Z" fill="#0c0c0c"/>
<text x="645.88" y="315.24" font-family="&quot;Liberation Sans&quot;, sans-serif" font-weight="bold" font-size="27.12" textLength="10.58" lengthAdjust="spacingAndGlyphs" fill="#0c0c0c" stroke="#0c0c0c" stroke-width="2.00" stroke-linejoin="miter" stroke-miterlimit="2">6</text>
<text x="659.24" y="315.24" font-family="&quot;Liberation Sans&quot;, sans-serif" font-weight="bold" font-size="27.12" textLength="10.28" lengthAdjust="spacingAndGlyphs" fill="#0c0c0c" stroke="#0c0c0c" stroke-width="2.00" stroke-linejoin="miter" stroke-miterlimit="2">5</text>
<text x="768.53" y="252.94" font-family="&quot;Liberation Sans&quot;, sans-serif" font-weight="bold" font-size="26.84" textLength="10.78" lengthAdjust="spacingAndGlyphs" fill="#0c0c0c" stroke="#0c0c0c" stroke-width="2.00" stroke-linejoin="miter" stroke-miterlimit="2">2</text>
<path d="M781.55,250.06 H785.40 V253.90 H781.55 Z" fill="#0c0c0c"/>
<text x="787.77" y="252.94" font-family="&quot;Liberation Sans&quot;, sans-serif" font-weight="bold" font-size="26.84" textLength="10.48" lengthAdjust="spacingAndGlyphs" fill="#0c0c0c" stroke="#0c0c0c" stroke-width="2.00" stroke-linejoin="miter" stroke-miterlimit="2">9</text>
<text x="800.88" y="252.94" font-family="&quot;Liberation Sans&quot;, sans-serif" font-weight="bold" font-size="26.84" textLength="10.50" lengthAdjust="spacingAndGlyphs" fill="#0c0c0c" stroke="#0c0c0c" stroke-width="2.00" stroke-linejoin="miter" stroke-miterlimit="2">6</text>
<text x="62.72" y="413.43" font-family="&quot;Liberation Sans&quot;, sans-serif" font-weight="bold" font-size="27.82" textLength="9.52" lengthAdjust="spacingAndGlyphs" fill="#0c0c0c" stroke="#0c0c0c" stroke-width="2.00" stroke-linejoin="miter" stroke-miterlimit="2">0</text>
<path d="M74.55,410.59 H78.36 V414.40 H74.55 Z" fill="#0c0c0c"/>
<text x="80.62" y="413.43" font-family="&quot;Liberation Sans&quot;, sans-serif" font-weight="bold" font-size="27.82" textLength="9.65" lengthAdjust="spacingAndGlyphs" fill="#0c0c0c" stroke="#0c0c0c" stroke-width="2.00" stroke-linejoin="miter" stroke-miterlimit="2">7</text>
<path d="M92.52,395.17 L96.28,393.00 L100.05,393.00 L100.05,414.70 L95.68,414.70 L95.68,397.77 L92.52,398.43 Z" fill="#0c0c0c"/>
<text x="102.79" y="413.43" font-family="&quot;Liberation Sans&quot;, sans-serif" font-weight="bold" font-size="27.82" textLength="9.91" lengthAdjust="spacingAndGlyphs" fill="#0c0c0c" stroke="#0c0c0c" stroke-width="2.00" stroke-linejoin="miter" stroke-miterlimit="2">4</text>
<text x="201.02" y="402.54" font-family="&quot;Liberation Sans&quot;, sans-serif" font-weight="bold" font-size="27.12" textLength="9.61" lengthAdjust="spacingAndGlyphs" fill="#0c0c0c" stroke="#0c0c0c" stroke-width="2.00" stroke-linejoin="miter" stroke-miterlimit="2">0</text>
<path d="M212.94,399.66 H216.78 V403.50 H212.94 Z" fill="#0c0c0c"/>
<text x="219.19" y="402.54" font-family="&quot;Liberation Sans&quot;, sans-serif" font-weight="bold" font-size="27.12" textLength="10.74" lengthAdjust="spacingAndGlyphs" fill="#0c0c0c" stroke="#0c0c0c" stroke-width="2.00" stroke-linejoin="miter" stroke-miterlimit="2">8</text>
<text x="232.67" y="402.54" font-family="&quot;Liberation Sans&quot;, sans-serif" font-weight="bold" font-size="27.12" textLength="10.50" lengthAdjust="spacingAndGlyphs" fill="#0c0c0c" stroke="#0c0c0c" stroke-width="2.00" stroke-linejoin="miter" stroke-miterlimit="2">6</text>
<path d="M245.51,384.72 L249.31,382.60 L253.10,382.60 L253.10,403.80 L248.70,403.80 L248.70,387.26 L245.51,387.90 Z" fill="#0c0c0c"/>
<text x="342.34" y="402.93" font-family="&quot;Liberation Sans&quot;, sans-serif" font-weight="bold" font-size="27.68" textLength="9.32" lengthAdjust="spacingAndGlyphs" fill="#0c0c0c" stroke="#0c0c0c" stroke-width="2.00" stroke-linejoin="miter" stroke-miterlimit="2">0</text>
<path d="M353.94,400.15 H357.70 V403.90 H353.94 Z" fill="#0c0c0c"/>
<text x="360.04" y="402.93" font-family="&quot;Liberation Sans&quot;, sans-serif" font-weight="bold" font-size="27.68" textLength="10.17" lengthAdjust="spacingAndGlyphs" fill="#0c0c0c" stroke="#0c0c0c" stroke-width="2.00" stroke-linejoin="miter" stroke-miterlimit="2">9</text>
<text x="372.77" y="402.93" font-family="&quot;Liberation Sans&quot;, sans-serif" font-weight="bold" font-size="27.68" textLength="9.45" lengthAdjust="spacingAndGlyphs" fill="#0c0c0c" stroke="#0c0c0c" stroke-width="2.00" stroke-linejoin="miter" stroke-miterlimit="2">7</text>
<text x="385.18" y="402.93" font-family="&quot;Liberation Sans&quot;, sans-serif" font-weight="bold" font-size="27.68" textLength="9.71" lengthAdjust="spacingAndGlyphs" fill="#0c0c0c" stroke="#0c0c0c" stroke-width="2.00" stroke-linejoin="miter" stroke-miterlimit="2">4</text>
<path d="M492.00,376.50 L496.06,374.30 L500.12,374.30 L500.12,396.30 L495.41,396.30 L495.41,379.14 L492.00,379.80 Z" fill="#0c0c0c"/>
<path d="M502.29,391.88 H506.41 V396.00 H502.29 Z" fill="#0c0c0c"/>
<path d="M508.57,376.50 L512.63,374.30 L516.69,374.30 L516.69,396.30 L511.98,396.30 L511.98,379.14 L508.57,379.80 Z" fill="#0c0c0c"/>
<text x="519.12" y="395.02" font-family="&quot;Liberation Sans&quot;, sans-serif" font-weight="bold" font-size="28.25" textLength="10.45" lengthAdjust="spacingAndGlyphs" fill="#0c0c0c" stroke="#0c0c0c" stroke-width="2.00" stroke-linejoin="miter" stroke-miterlimit="2">0</text>
<path d="M639.80,365.34 L643.77,363.20 L647.74,363.20 L647.74,384.60 L643.14,384.60 L643.14,367.91 L639.80,368.55 Z" fill="#0c0c0c"/>
<path d="M649.86,380.28 H653.89 V384.30 H649.86 Z" fill="#0c0c0c"/>
<text x="656.72" y="383.33" font-family="&quot;Liberation Sans&quot;, sans-serif" font-weight="bold" font-size="27.40" textLength="10.57" lengthAdjust="spacingAndGlyphs" fill="#0c0c0c" stroke="#0c0c0c" stroke-width="2.00" stroke-linejoin="miter" stroke-miterlimit="2">4</text>
<text x="670.58" y="383.33" font-family="&quot;Liberation Sans&quot;, sans-serif" font-weight="bold" font-size="27.40" textLength="10.17" lengthAdjust="spacingAndGlyphs" fill="#0c0c0c" stroke="#0c0c0c" stroke-width="2.00" stroke-linejoin="miter" stroke-miterlimit="2">0</text>
<path d="M780.50,356.06 L784.48,353.90 L788.47,353.90 L788.47,375.50 L783.85,375.50 L783.85,358.65 L780.50,359.30 Z" fill="#0c0c0c"/>
<path d="M790.59,371.16 H794.63 V375.20 H790.59 Z" fill="#0c0c0c"/>
<text x="797.16" y="374.23" font-family="&quot;Liberation Sans&quot;, sans-serif" font-weight="bold" font-size="27.68" textLength="10.83" lengthAdjust="spacingAndGlyphs" fill="#0c0c0c" stroke="#0c0c0c" stroke-width="2.00" stroke-linejoin="miter" stroke-miterlimit="2">5</text>
<text x="810.84" y="374.23" font-family="&quot;Liberation Sans&quot;, sans-serif" font-weight="bold" font-size="27.68" textLength="10.21" lengthAdjust="spacingAndGlyphs" fill="#0c0c0c" stroke="#0c0c0c" stroke-width="2.00" stroke-linejoin="miter" stroke-miterlimit="2">0</text>
<text x="175.03" y="112.10" font-family="&quot;Liberation Sans&quot;, sans-serif" font-weight="bold" font-size="41.57" textLength="21.31" lengthAdjust="spacingAndGlyphs" fill="#0c0c0c" stroke="#0c0c0c" stroke-width="3.00" stroke-linejoin="miter" stroke-miterlimit="2">B</text>
<text x="198.75" y="112.10" font-family="&quot;Liberation Sans&quot;, sans-serif" font-weight="bold" font-size="41.57" textLength="21.03" lengthAdjust="spacingAndGlyphs" fill="#0c0c0c" stroke="#0c0c0c" stroke-width="3.00" stroke-linejoin="miter" stroke-miterlimit="2">U</text>
<text x="222.68" y="112.10" font-family="&quot;Liberation Sans&quot;, sans-serif" font-weight="bold" font-size="41.57" textLength="18.93" lengthAdjust="spacingAndGlyphs" fill="#0c0c0c" stroke="#0c0c0c" stroke-width="3.00" stroke-linejoin="miter" stroke-miterlimit="2">S</text>
<text x="245.64" y="112.10" font-family="&quot;Liberation Sans&quot;, sans-serif" font-weight="bold" font-size="41.57" textLength="7.72" lengthAdjust="spacingAndGlyphs" fill="#0c0c0c" stroke="#0c0c0c" stroke-width="3.00" stroke-linejoin="miter" stroke-miterlimit="2">I</text>
<text x="255.95" y="112.10" font-family="&quot;Liberation Sans&quot;, sans-serif" font-weight="bold" font-size="41.57" textLength="22.11" lengthAdjust="spacingAndGlyphs" fill="#0c0c0c" stroke="#0c0c0c" stroke-width="3.00" stroke-linejoin="miter" stroke-miterlimit="2">N</text>
<text x="279.01" y="112.10" font-family="&quot;Liberation Sans&quot;, sans-serif" font-weight="bold" font-size="41.57" textLength="14.86" lengthAdjust="spacingAndGlyphs" fill="#0c0c0c" stroke="#0c0c0c" stroke-width="3.00" stroke-linejoin="miter" stroke-miterlimit="2">E</text>
<text x="296.73" y="112.10" font-family="&quot;Liberation Sans&quot;, sans-serif" font-weight="bold" font-size="41.57" textLength="17.81" lengthAdjust="spacingAndGlyphs" fill="#0c0c0c" stroke="#0c0c0c" stroke-width="3.00" stroke-linejoin="miter" stroke-miterlimit="2">S</text>
<text x="317.28" y="112.10" font-family="&quot;Liberation Sans&quot;, sans-serif" font-weight="bold" font-size="41.57" textLength="16.70" lengthAdjust="spacingAndGlyphs" fill="#0c0c0c" stroke="#0c0c0c" stroke-width="3.00" stroke-linejoin="miter" stroke-miterlimit="2">S</text>
<text x="174.93" y="155.20" font-family="&quot;Liberation Sans&quot;, sans-serif" font-weight="bold" font-size="40.70" textLength="20.63" lengthAdjust="spacingAndGlyphs" fill="#0c0c0c" stroke="#0c0c0c" stroke-width="3.00" stroke-linejoin="miter" stroke-miterlimit="2">P</text>
<text x="198.57" y="155.20" font-family="&quot;Liberation Sans&quot;, sans-serif" font-weight="bold" font-size="40.70" textLength="14.27" lengthAdjust="spacingAndGlyphs" fill="#0c0c0c" stroke="#0c0c0c" stroke-width="3.00" stroke-linejoin="miter" stroke-miterlimit="2">E</text>
<text x="216.71" y="155.20" font-family="&quot;Liberation Sans&quot;, sans-serif" font-weight="bold" font-size="40.70" textLength="19.34" lengthAdjust="spacingAndGlyphs" fill="#0c0c0c" stroke="#0c0c0c" stroke-width="3.00" stroke-linejoin="miter" stroke-miterlimit="2">R</text>
<text x="239.85" y="155.20" font-family="&quot;Liberation Sans&quot;, sans-serif" font-weight="bold" font-size="40.70" textLength="15.05" lengthAdjust="spacingAndGlyphs" fill="#0c0c0c" stroke="#0c0c0c" stroke-width="3.00" stroke-linejoin="miter" stroke-miterlimit="2">F</text>
<text x="258.47" y="155.20" font-family="&quot;Liberation Sans&quot;, sans-serif" font-weight="bold" font-size="40.70" textLength="19.59" lengthAdjust="spacingAndGlyphs" fill="#0c0c0c" stroke="#0c0c0c" stroke-width="3.00" stroke-linejoin="miter" stroke-miterlimit="2">O</text>
<text x="282.76" y="155.20" font-family="&quot;Liberation Sans&quot;, sans-serif" font-weight="bold" font-size="40.70" textLength="18.77" lengthAdjust="spacingAndGlyphs" fill="#0c0c0c" stroke="#0c0c0c" stroke-width="3.00" stroke-linejoin="miter" stroke-miterlimit="2">R</text>
<text x="305.40" y="155.20" font-family="&quot;Liberation Sans&quot;, sans-serif" font-weight="bold" font-size="40.70" textLength="26.21" lengthAdjust="spacingAndGlyphs" fill="#0c0c0c" stroke="#0c0c0c" stroke-width="3.00" stroke-linejoin="miter" stroke-miterlimit="2">M</text>
<text x="333.85" y="155.20" font-family="&quot;Liberation Sans&quot;, sans-serif" font-weight="bold" font-size="40.70" textLength="18.84" lengthAdjust="spacingAndGlyphs" fill="#0c0c0c" stroke="#0c0c0c" stroke-width="3.00" stroke-linejoin="miter" stroke-miterlimit="2">A</text>
<text x="356.79" y="155.20" font-family="&quot;Liberation Sans&quot;, sans-serif" font-weight="bold" font-size="40.70" textLength="18.43" lengthAdjust="spacingAndGlyphs" fill="#0c0c0c" stroke="#0c0c0c" stroke-width="3.00" stroke-linejoin="miter" stroke-miterlimit="2">N</text>
<text x="379.46" y="155.20" font-family="&quot;Liberation Sans&quot;, sans-serif" font-weight="bold" font-size="40.70" textLength="18.23" lengthAdjust="spacingAndGlyphs" fill="#0c0c0c" stroke="#0c0c0c" stroke-width="3.00" stroke-linejoin="miter" stroke-miterlimit="2">C</text>
<text x="403.07" y="155.20" font-family="&quot;Liberation Sans&quot;, sans-serif" font-weight="bold" font-size="40.70" textLength="14.27" lengthAdjust="spacingAndGlyphs" fill="#0c0c0c" stroke="#0c0c0c" stroke-width="3.00" stroke-linejoin="miter" stroke-miterlimit="2">E</text>
<circle cx="881.25" cy="421.25" r="4.3" fill="#0c0c0c"/>
<g transform="translate(886.80,420.00) rotate(-90)"><text x="4.62" y="0" font-family="&quot;Liberation Sans&quot;, sans-serif" font-weight="bold" font-size="19.77" textLength="8.91" lengthAdjust="spacingAndGlyphs" fill="#0c0c0c" stroke="#0c0c0c" stroke-width="1.00" stroke-linejoin="miter" stroke-miterlimit="2">S</text><text x="15.43" y="0" font-family="&quot;Liberation Sans&quot;, sans-serif" font-weight="bold" font-size="19.77" textLength="5.73" lengthAdjust="spacingAndGlyphs" fill="#0c0c0c" stroke="#0c0c0c" stroke-width="1.00" stroke-linejoin="miter" stroke-miterlimit="2">o</text><text x="22.56" y="0" font-family="&quot;Liberation Sans&quot;, sans-serif" font-weight="bold" font-size="19.77" textLength="6.32" lengthAdjust="spacingAndGlyphs" fill="#0c0c0c" stroke="#0c0c0c" stroke-width="1.00" stroke-linejoin="miter" stroke-miterlimit="2">u</text><text x="29.92" y="0" font-family="&quot;Liberation Sans&quot;, sans-serif" font-weight="bold" font-size="19.77" textLength="3.41" lengthAdjust="spacingAndGlyphs" fill="#0c0c0c" stroke="#0c0c0c" stroke-width="1.00" stroke-linejoin="miter" stroke-miterlimit="2">r</text><text x="34.88" y="0" font-family="&quot;Liberation Sans&quot;, sans-serif" font-weight="bold" font-size="19.77" textLength="4.56" lengthAdjust="spacingAndGlyphs" fill="#0c0c0c" stroke="#0c0c0c" stroke-width="1.00" stroke-linejoin="miter" stroke-miterlimit="2">c</text><text x="40.85" y="0" font-family="&quot;Liberation Sans&quot;, sans-serif" font-weight="bold" font-size="19.77" textLength="4.95" lengthAdjust="spacingAndGlyphs" fill="#0c0c0c" stroke="#0c0c0c" stroke-width="1.00" stroke-linejoin="miter" stroke-miterlimit="2">e</text><text x="47.40" y="0" font-family="&quot;Liberation Sans&quot;, sans-serif" font-weight="bold" font-size="19.77" textLength="5.21" lengthAdjust="spacingAndGlyphs" fill="#0c0c0c" stroke="#0c0c0c" stroke-width="0.60" stroke-linejoin="miter" stroke-miterlimit="2">:</text><text x="56.63" y="0" font-family="&quot;Liberation Sans&quot;, sans-serif" font-weight="bold" font-size="19.77" textLength="5.18" lengthAdjust="spacingAndGlyphs" fill="#0c0c0c" stroke="#0c0c0c" stroke-width="1.00" stroke-linejoin="miter" stroke-miterlimit="2">F</text><text x="62.39" y="0" font-family="&quot;Liberation Sans&quot;, sans-serif" font-weight="bold" font-size="19.77" textLength="3.24" lengthAdjust="spacingAndGlyphs" fill="#0c0c0c" stroke="#0c0c0c" stroke-width="1.00" stroke-linejoin="miter" stroke-miterlimit="2">i</text><text x="66.44" y="0" font-family="&quot;Liberation Sans&quot;, sans-serif" font-weight="bold" font-size="19.77" textLength="7.08" lengthAdjust="spacingAndGlyphs" fill="#0c0c0c" stroke="#0c0c0c" stroke-width="1.00" stroke-linejoin="miter" stroke-miterlimit="2">n</text><text x="75.49" y="0" font-family="&quot;Liberation Sans&quot;, sans-serif" font-weight="bold" font-size="19.77" textLength="5.95" lengthAdjust="spacingAndGlyphs" fill="#0c0c0c" stroke="#0c0c0c" stroke-width="1.00" stroke-linejoin="miter" stroke-miterlimit="2">a</text><text x="82.78" y="0" font-family="&quot;Liberation Sans&quot;, sans-serif" font-weight="bold" font-size="19.77" textLength="6.70" lengthAdjust="spacingAndGlyphs" fill="#0c0c0c" stroke="#0c0c0c" stroke-width="1.00" stroke-linejoin="miter" stroke-miterlimit="2">n</text><text x="90.42" y="0" font-family="&quot;Liberation Sans&quot;, sans-serif" font-weight="bold" font-size="19.77" textLength="5.36" lengthAdjust="spacingAndGlyphs" fill="#0c0c0c" stroke="#0c0c0c" stroke-width="1.00" stroke-linejoin="miter" stroke-miterlimit="2">c</text><text x="96.63" y="0" font-family="&quot;Liberation Sans&quot;, sans-serif" font-weight="bold" font-size="19.77" textLength="3.44" lengthAdjust="spacingAndGlyphs" fill="#0c0c0c" stroke="#0c0c0c" stroke-width="1.00" stroke-linejoin="miter" stroke-miterlimit="2">i</text><text x="100.95" y="0" font-family="&quot;Liberation Sans&quot;, sans-serif" font-weight="bold" font-size="19.77" textLength="4.80" lengthAdjust="spacingAndGlyphs" fill="#0c0c0c" stroke="#0c0c0c" stroke-width="1.00" stroke-linejoin="miter" stroke-miterlimit="2">a</text><text x="107.54" y="0" font-family="&quot;Liberation Sans&quot;, sans-serif" font-weight="bold" font-size="19.77" textLength="2.63" lengthAdjust="spacingAndGlyphs" fill="#0c0c0c" stroke="#0c0c0c" stroke-width="1.00" stroke-linejoin="miter" stroke-miterlimit="2">l</text><text x="116.13" y="0" font-family="&quot;Liberation Sans&quot;, sans-serif" font-weight="bold" font-size="19.77" textLength="5.79" lengthAdjust="spacingAndGlyphs" fill="#0c0c0c" stroke="#0c0c0c" stroke-width="1.00" stroke-linejoin="miter" stroke-miterlimit="2">s</text><text x="123.37" y="0" font-family="&quot;Liberation Sans&quot;, sans-serif" font-weight="bold" font-size="19.77" textLength="3.56" lengthAdjust="spacingAndGlyphs" fill="#0c0c0c" stroke="#0c0c0c" stroke-width="1.00" stroke-linejoin="miter" stroke-miterlimit="2">t</text><text x="128.23" y="0" font-family="&quot;Liberation Sans&quot;, sans-serif" font-weight="bold" font-size="19.77" textLength="5.22" lengthAdjust="spacingAndGlyphs" fill="#0c0c0c" stroke="#0c0c0c" stroke-width="1.00" stroke-linejoin="miter" stroke-miterlimit="2">a</text><text x="135.06" y="0" font-family="&quot;Liberation Sans&quot;, sans-serif" font-weight="bold" font-size="19.77" textLength="3.88" lengthAdjust="spacingAndGlyphs" fill="#0c0c0c" stroke="#0c0c0c" stroke-width="1.00" stroke-linejoin="miter" stroke-miterlimit="2">t</text><text x="140.42" y="0" font-family="&quot;Liberation Sans&quot;, sans-serif" font-weight="bold" font-size="19.77" textLength="5.41" lengthAdjust="spacingAndGlyphs" fill="#0c0c0c" stroke="#0c0c0c" stroke-width="1.00" stroke-linejoin="miter" stroke-miterlimit="2">e</text><text x="146.81" y="0" font-family="&quot;Liberation Sans&quot;, sans-serif" font-weight="bold" font-size="19.77" textLength="13.32" lengthAdjust="spacingAndGlyphs" fill="#0c0c0c" stroke="#0c0c0c" stroke-width="1.00" stroke-linejoin="miter" stroke-miterlimit="2">m</text><text x="161.10" y="0" font-family="&quot;Liberation Sans&quot;, sans-serif" font-weight="bold" font-size="19.77" textLength="5.76" lengthAdjust="spacingAndGlyphs" fill="#0c0c0c" stroke="#0c0c0c" stroke-width="1.00" stroke-linejoin="miter" stroke-miterlimit="2">e</text><text x="168.16" y="0" font-family="&quot;Liberation Sans&quot;, sans-serif" font-weight="bold" font-size="19.77" textLength="5.95" lengthAdjust="spacingAndGlyphs" fill="#0c0c0c" stroke="#0c0c0c" stroke-width="1.00" stroke-linejoin="miter" stroke-miterlimit="2">n</text><text x="175.38" y="0" font-family="&quot;Liberation Sans&quot;, sans-serif" font-weight="bold" font-size="19.77" textLength="3.24" lengthAdjust="spacingAndGlyphs" fill="#0c0c0c" stroke="#0c0c0c" stroke-width="1.00" stroke-linejoin="miter" stroke-miterlimit="2">t</text><text x="179.83" y="0" font-family="&quot;Liberation Sans&quot;, sans-serif" font-weight="bold" font-size="19.77" textLength="5.79" lengthAdjust="spacingAndGlyphs" fill="#0c0c0c" stroke="#0c0c0c" stroke-width="1.00" stroke-linejoin="miter" stroke-miterlimit="2">s</text></g>
</svg>
</body></html>
